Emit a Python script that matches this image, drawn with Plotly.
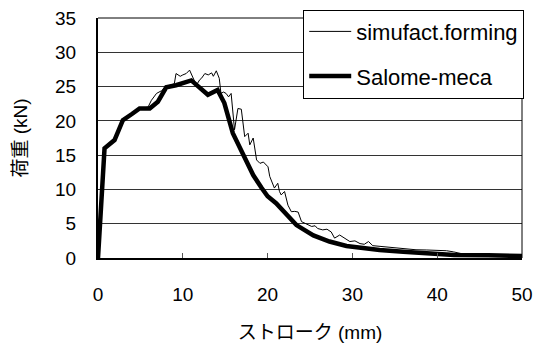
import plotly.graph_objects as go

# simufact.forming (thin line)
sim_x = [0, 0.8, 1.9, 2.9, 3.9, 4.9, 5.9, 6.3, 6.9, 7.5, 8.0, 8.5, 9.0, 9.2, 9.7, 10.0,
         10.4, 10.8, 11.2, 11.6, 12.0, 12.2, 12.6, 13.0, 13.4, 13.6, 13.95, 14.3, 14.5,
         14.8, 15.1, 15.4, 15.7, 15.9, 16.1, 16.5, 16.9, 17.3, 17.7, 17.9, 18.3, 18.7,
         19.1, 19.5, 20.05, 20.25, 20.8, 21.2, 21.4, 21.6, 22.0, 22.4, 22.8, 23.2, 23.6,
         24.0, 24.4, 24.8, 25.2, 25.6, 25.9, 26.5, 27.0, 27.5, 27.9, 28.5, 29.1, 29.7,
         30.3, 30.9, 31.4, 31.9, 32.4, 33.2, 34.0, 35.0, 36.4, 37.5, 38.7, 40.0, 41.1,
         41.9, 43.0, 45.0, 47.0, 50.0]
sim_y = [0, 15.8, 17.3, 20.2, 21.0, 21.8, 22.0, 23.0, 24.0, 24.4, 25.0, 25.2, 25.4, 26.9,
         26.5, 26.7, 26.9, 27.4, 26.4, 25.2, 26.0, 26.2, 26.9, 26.7, 27.0, 26.5, 27.3,
         26.2, 24.0, 24.2, 24.0, 23.5, 24.0, 21.6, 18.7, 21.8, 21.7, 17.7, 18.2, 16.5,
         17.5, 14.3, 13.8, 14.0, 13.3, 11.9, 10.2, 10.9, 9.7, 9.2, 9.7, 7.7, 6.75, 6.8,
         6.7, 5.3, 5.05, 4.8, 4.6, 4.7, 4.3, 4.1, 4.2, 3.8, 2.9, 3.35, 2.9, 2.4, 2.5,
         2.1, 2.0, 2.4, 1.8, 1.7, 1.65, 1.5, 1.4, 1.2, 1.17, 1.1, 1.06, 0.9, 0.6, 0.5,
         0.5, 0.4]

# Salome-meca (thick line)
sal_x = [0, 0.77, 1.95, 2.93, 4.0, 4.9, 6.1, 7.06, 8.05, 9.2, 11.0, 11.6, 12.96, 14.1,
         14.9, 15.9, 16.9, 18.3, 19.3, 20.0, 21.0, 22.2, 23.4, 25.4, 27.3, 29.3, 31.3,
         33.2, 36.0, 38.0, 42.0, 46.0, 50.0]
sal_y = [0, 16.0, 17.2, 20.1, 21.0, 21.8, 21.8, 22.8, 24.9, 25.2, 25.9, 25.2, 23.8, 24.5,
         22.6, 18.2, 15.75, 12.1, 10.2, 9.0, 8.0, 6.5, 4.8, 3.3, 2.4, 1.75, 1.4, 1.17,
         0.9, 0.7, 0.44, 0.4, 0.3]

x_ticks = [0, 10, 20, 30, 40, 50]
y_ticks = [0, 5, 10, 15, 20, 25, 30, 35]
x_title = "ストローク (mm)"
y_title = "荷重 (kN)"

FONT = "Liberation Sans, Arial, Noto Sans CJK JP, sans-serif"

fig = go.Figure()
fig.add_trace(go.Scatter(x=sim_x, y=sim_y, mode="lines", name="simufact.forming",
                         legendgroup="a", line=dict(color="black", width=1)))
fig.add_trace(go.Scatter(x=sal_x, y=sal_y, mode="lines", name="Salome-meca",
                         legendgroup="b", line=dict(color="black", width=4.5)))

fig.update_layout(
    width=534, height=343,
    margin=dict(l=98, r=12, t=18, b=85, autoexpand=False),
    paper_bgcolor="white", plot_bgcolor="white",
    font=dict(family=FONT, size=19, color="black"),
    showlegend=True,
    legend=dict(x=0.484, y=1.035, xanchor="left", yanchor="top",
                bgcolor="white", bordercolor="black", borderwidth=1,
                font=dict(size=22), tracegroupgap=13, itemwidth=42),
    xaxis=dict(range=[0, 50], tickvals=x_ticks, showgrid=False, zeroline=False,
               showline=True, linecolor="black", linewidth=2,
               ticks="inside", ticklen=5, tickcolor="#555", tickwidth=1,
               ticklabelstandoff=18,
               title=dict(text=x_title, standoff=25, font=dict(size=19))),
    yaxis=dict(range=[0, 35], tickvals=y_ticks, showgrid=True, gridcolor="#333",
               gridwidth=1, zeroline=False, showline=True, linecolor="black",
               linewidth=2, ticks="", ticklabelstandoff=16,
               title=dict(text=y_title, standoff=22, font=dict(size=19))),
)
# plot-area frame (top and right)
fig.add_shape(type="line", xref="x domain", yref="y domain", x0=0, x1=1, y0=1, y1=1,
              line=dict(color="black", width=1))
fig.add_shape(type="line", xref="x domain", yref="y domain", x0=1, x1=1, y0=0, y1=1,
              line=dict(color="black", width=1))

fig.write_html("out.html")
